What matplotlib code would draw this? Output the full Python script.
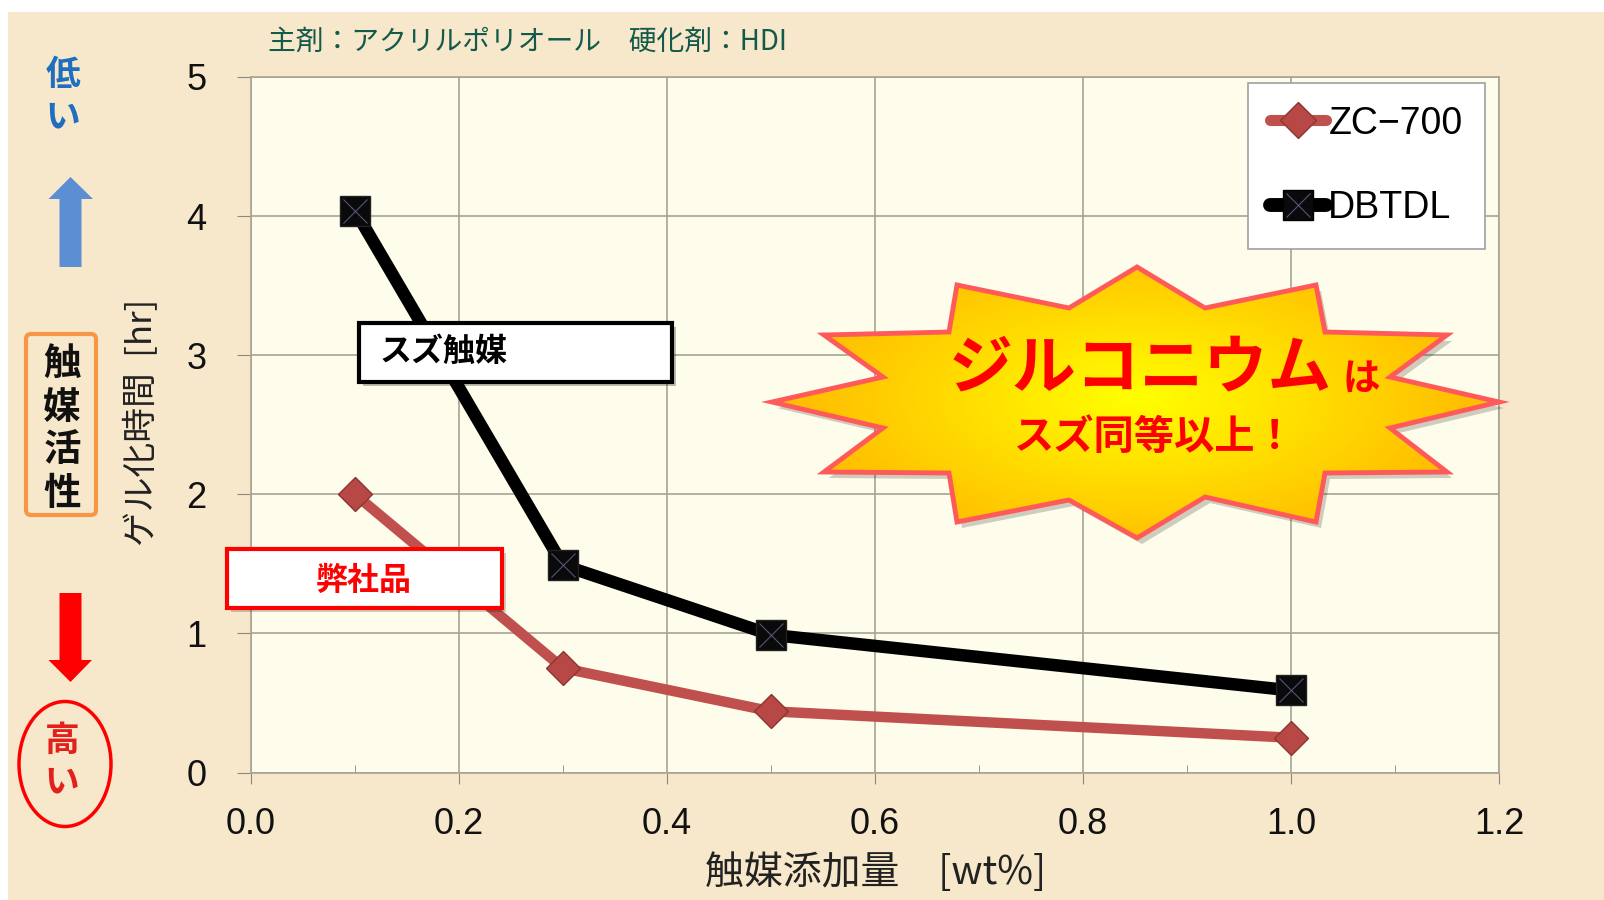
import numpy as np
import matplotlib.pyplot as plt
from matplotlib.lines import Line2D
from matplotlib.patches import Rectangle, Polygon, Ellipse, FancyBboxPatch

# データ
x_wt = [0.1, 0.3, 0.5, 1.0]
zc700 = [2.0, 0.75, 0.44, 0.25]
dbtdl = [4.04, 1.49, 0.99, 0.59]
series_names = ["ZC\u2212700", "DBTDL"]
x_ticks = [0.0, 0.2, 0.4, 0.6, 0.8, 1.0, 1.2]
y_ticks = [0, 1, 2, 3, 4, 5]

JP = ['Noto Sans CJK JP', 'DejaVu Sans']
LAT = ['Liberation Sans', 'DejaVu Sans']

W, H = 1604, 900
fig = plt.figure(figsize=(W / 100, H / 100), dpi=100)
fig.patch.set_facecolor('white')

# 羊皮紙風の背景
fig.add_artist(Rectangle((8 / W, 0), 1, 1 - 12 / H, transform=fig.transFigure,
                         facecolor='#F7E8CB', edgecolor='none', zorder=-10))

ax = fig.add_axes([251 / W, 1 - 772.5 / H, (1499 - 251) / W, (772.5 - 77) / H])
ax.set_facecolor('#FEFCEA')

ax.plot(x_wt, zc700, color='#C0504D', lw=7.5, marker='D', markersize=17,
        markerfacecolor='#B84845', markeredgecolor='#8E3431', markeredgewidth=1,
        solid_joinstyle='round', zorder=3)
ax.plot(x_wt, dbtdl, color='black', lw=9, marker='s', markersize=22,
        markerfacecolor='#0A0A0A', markeredgecolor='#222', solid_joinstyle='round', zorder=3)
ax.scatter(x_wt, dbtdl, marker='x', s=300, color='#55557A', linewidths=0.8, zorder=4)

ax.set_xlim(0, 1.2)
ax.set_ylim(0, 5)
ax.set_xticks(x_ticks)
ax.set_xticklabels([f"{v:.1f}" for v in x_ticks])
ax.set_yticks(y_ticks)
ax.set_xticks([0.1, 0.3, 0.5, 0.7, 0.9, 1.1], minor=True)
ax.grid(True, which='major', color='#A8A494', lw=1.2)
for s in ax.spines.values():
    s.set_color('#A8A494')
    s.set_linewidth(1.2)
ax.tick_params(axis='both', which='major', color='#8C8A80', labelsize=26, labelcolor='#111')
ax.tick_params(axis='y', length=10, pad=22)
ax.tick_params(axis='x', length=8, pad=17)
ax.tick_params(axis='x', which='minor', direction='in', length=6, color='#8C8A80')
for lab in ax.get_xticklabels() + ax.get_yticklabels():
    lab.set_family(LAT)

# 凡例
h_zc = Line2D([], [], color='#C0504D', lw=8, marker='D', markersize=18,
              markerfacecolor='#B84845', markeredgecolor='#8E3431', solid_capstyle='round')
h_db = Line2D([], [], color='black', lw=10, marker='s', markersize=22,
              markerfacecolor='#0A0A0A', solid_capstyle='round')
h_dbx = Line2D([], [], lw=0, marker='x', markersize=17, color='#55557A', markeredgewidth=0.8)
leg = ax.legend([h_zc, (h_db, h_dbx)], series_names, loc='upper right',
                bbox_to_anchor=(1485 / W, 1 - 83 / H), bbox_transform=fig.transFigure,
                borderaxespad=0, fancybox=False, framealpha=1, facecolor='white',
                edgecolor='#A0A0A0', prop={'family': LAT, 'size': 27},
                handlelength=1.5, handletextpad=0.05, labelspacing=1.3, borderpad=0.6,
                numpoints=1)
leg.get_frame().set_linewidth(1.2)

ax.set_xlabel("触媒添加量　[wt%]", family=JP, fontsize=28, color='#222', va='center')
ax.xaxis.set_label_coords(876 / W, 1 - 873 / H, transform=fig.transFigure)
ax.set_ylabel("ゲル化時間  [hr]", family=JP, fontsize=25, color='#222', va='center', ha='center')
ax.yaxis.set_label_coords(143 / W, 1 - 422 / H, transform=fig.transFigure)

# 注記用のオーバーレイ（ピクセル座標）
ov = fig.add_axes([0, 0, 1, 1], zorder=5)
ov.set_xlim(0, W)
ov.set_ylim(H, 0)
ov.axis('off')
ov.patch.set_alpha(0)

ov.text(268, 42, "主剤：アクリルポリオール　硬化剤：HDI", family=JP, fontsize=20,
        color='#145A4B', ha='left', va='center')

# 左側：触媒活性の目安
ov.text(63, 75, "低", family=JP, fontsize=25, weight='bold', color='#1F6FBF', ha='center', va='center')
ov.text(63, 117, "い", family=JP, fontsize=25, weight='bold', color='#1F6FBF', ha='center', va='center')
ov.add_patch(Polygon([(70.5, 177), (93, 199), (81.5, 199), (81.5, 267), (59.5, 267),
                      (59.5, 199), (48.5, 199)], closed=True, facecolor='#5B8ED2', edgecolor='none'))
ov.add_patch(FancyBboxPatch((26, 334), 70, 181, boxstyle='round,pad=0,rounding_size=5',
                            facecolor='none', edgecolor='#F79646', lw=3))
for ch, yy in zip("触媒活性", [363, 407, 450, 493]):
    ov.text(62, yy, ch, family=JP, fontsize=27, weight='bold', color='#111', ha='center', va='center')
ov.add_patch(Polygon([(59.5, 593), (81.5, 593), (81.5, 660), (92, 660), (70.5, 682),
                      (48.5, 660), (59.5, 660)], closed=True, facecolor='#FF0000', edgecolor='none'))
ov.add_patch(Ellipse((65, 764), 92, 125, facecolor='none', edgecolor='#FF0000', lw=2.5))
ov.text(62, 740, "高", family=JP, fontsize=25, weight='bold', color='#E3201B', ha='center', va='center')
ov.text(62, 782, "い", family=JP, fontsize=25, weight='bold', color='#E3201B', ha='center', va='center')

# ラベルボックス
ov.add_patch(Rectangle((363, 327), 313, 59, facecolor='#00000040', edgecolor='none'))
ov.add_patch(Rectangle((359, 323), 313, 59, facecolor='white', edgecolor='black', lw=3))
ov.text(380, 352, "スズ触媒", family=JP, fontsize=23, weight='bold', color='black', ha='left', va='center')
ov.add_patch(Rectangle((231, 553), 275, 59, facecolor='#00000030', edgecolor='none'))
ov.add_patch(Rectangle((227, 549), 275, 59, facecolor='white', edgecolor='#FF0000', lw=3))
ov.text(364, 581, "弊社品", family=JP, fontsize=23, weight='bold', color='#FF0000', ha='center', va='center')

# 爆発型の吹き出し
burst = [(1137, 267), (1205, 308), (1316, 285), (1325, 332), (1447, 335), (1390, 377),
         (1499, 402), (1390, 428), (1447, 472), (1325, 473), (1316, 522), (1205, 497),
         (1137, 538), (1069, 500), (957, 522), (949, 473), (824, 472), (883, 428),
         (772, 402), (883, 377), (824, 335), (949, 332), (957, 285), (1069, 308)]
ov.add_patch(Polygon([(x + 5, y + 6) for x, y in burst], closed=True,
                     facecolor='#00000030', edgecolor='none'))
clip = Polygon(burst, closed=True, facecolor='none', edgecolor='none')
ov.add_patch(clip)
gx, gy = np.meshgrid(np.linspace(770, 1500, 300), np.linspace(265, 540, 150))
t = np.clip(np.hypot((gx - 1137) / 330, (gy - 397) / 150), 0, 1)
img = np.dstack([np.ones_like(t), 1 - 0.25 * t, np.zeros_like(t)])
im = ov.imshow(img, extent=(770, 1500, 540, 265), origin='upper', aspect='auto', zorder=2)
im.set_clip_path(clip)
ov.add_patch(Polygon(burst, closed=True, facecolor='none', edgecolor='#FF5A5A', lw=3.5, zorder=3))
ov.text(1140, 369, "ジルコニウム", family=JP, fontsize=46, weight='bold', color='#FF0000',
        ha='center', va='center', zorder=4)
ov.text(1361, 378, "は", family=JP, fontsize=27, weight='bold', color='#FF0000',
        ha='center', va='center', zorder=4)
ov.text(1155, 437, "スズ同等以上！", family=JP, fontsize=29, weight='bold', color='#FF0000',
        ha='center', va='center', zorder=4)
ov.set_xlim(0, W)
ov.set_ylim(H, 0)

fig.savefig("out.png", dpi=100, facecolor=fig.get_facecolor())
